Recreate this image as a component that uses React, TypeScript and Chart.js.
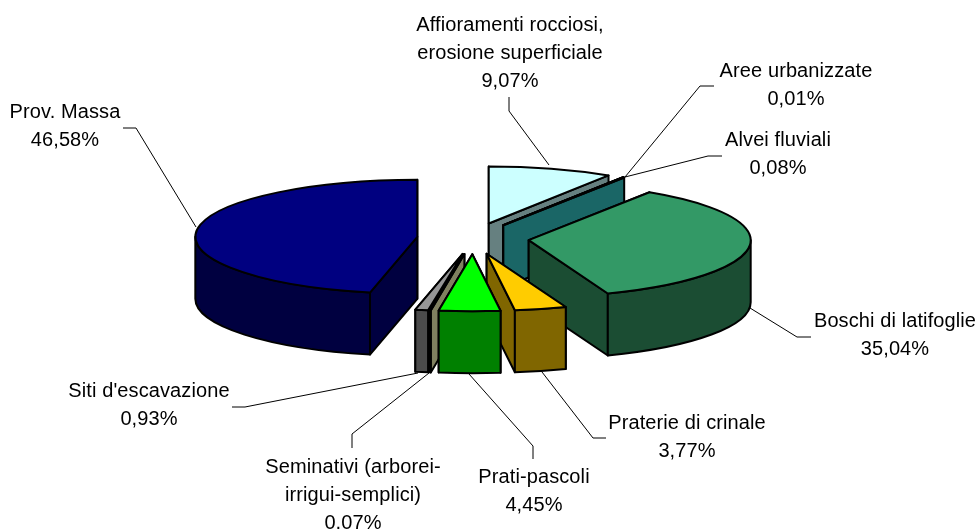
import React, { useEffect, useRef } from "react";
import { Chart, registerables } from "chart.js";

Chart.register(...registerables);

const categories: string[][] = [
  ["Affioramenti rocciosi,", "erosione superficiale"],
  ["Aree urbanizzate"],
  ["Alvei fluviali"],
  ["Boschi di latifoglie"],
  ["Praterie di crinale"],
  ["Prati-pascoli"],
  ["Seminativi (arborei-", "irrigui-semplici)"],
  ["Siti d'escavazione"],
  ["Prov. Massa"],
];
const shares = [9.07, 0.01, 0.08, 35.04, 3.77, 4.45, 0.07, 0.93, 46.58];
const topColors = ["#CCFFFF", "#99CCCC", "#339999", "#339966", "#FFCC00", "#00FF00", "#999966", "#969696", "#000080"];
const wallColors = ["#668080", "#4D6666", "#1A6666", "#1B4D33", "#806600", "#008000", "#808060", "#4B4B4B", "#000040"];
const paintOrder = [0, 1, 2, 3, 8, 7, 6, 4, 5];

// label centre x, first-line middle y
const labelAnchors = [
  [510, 25], [796, 71], [778, 140], [895, 321], [687, 423], [534, 477], [353, 467], [149, 391], [65, 112],
];
// leader polylines
const leaders = [
  [[509, 97], [509, 111], [549, 165]],
  [[714, 86], [700, 86], [625, 177]],
  [[722, 156], [708, 156], [625, 177]],
  [[811, 337], [797, 337], [750, 308]],
  [[606, 438], [593, 438], [542, 372]],
  [[533, 459], [533, 446], [469, 374]],
  [[352, 448], [352, 434], [429, 373]],
  [[232, 407], [245, 407], [418, 373]],
  [[123, 128], [136, 128], [196, 227]],
];

const TILT = 0.257;
const EXPLODE = 56;
const EXPLODE_TILT = 0.28;
const DEPTH = 62;
const FONT = '20px "Liberation Sans"';
const LINE_H = 28;

const pie3d = {
  id: "pie3d",
  beforeDatasetDraw(chart: any) {
    const ctx: CanvasRenderingContext2D = chart.ctx;
    const arcs = chart.getDatasetMeta(0).data;
    ctx.save();
    ctx.lineJoin = "round";
    ctx.lineWidth = 2;
    ctx.strokeStyle = "#000";
    const fillStroke = (c: string) => {
      ctx.fillStyle = c;
      ctx.fill();
      ctx.stroke();
    };
    for (const i of paintOrder) {
      const a = arcs[i];
      const s = a.startAngle;
      const e = a.endAngle;
      const mid = (s + e) / 2;
      const rx = a.outerRadius;
      const ry = rx * TILT;
      const cx = a.x + Math.cos(mid) * EXPLODE;
      const cy = a.y + Math.sin(mid) * EXPLODE * EXPLODE_TILT;
      const px = (t: number) => cx + Math.cos(t) * rx;
      const py = (t: number) => cy + Math.sin(t) * ry;
      const face = (t: number) => {
        ctx.beginPath();
        ctx.moveTo(cx, cy);
        ctx.lineTo(px(t), py(t));
        ctx.lineTo(px(t), py(t) + DEPTH);
        ctx.lineTo(cx, cy + DEPTH);
        ctx.closePath();
        fillStroke(wallColors[i]);
      };
      const faces = py(s) < py(e) ? [s, e] : [e, s];
      faces.forEach(face);
      // visible part of the rim: screen-front half of the ellipse
      const from = Math.max(s, 0);
      const to = Math.min(e, Math.PI);
      const ranges: number[][] = [];
      if (to > from) ranges.push([from, to]);
      const from2 = Math.max(s, 2 * Math.PI);
      const to2 = Math.min(e, 3 * Math.PI);
      if (to2 > from2) ranges.push([from2, to2]);
      for (const [f, t] of ranges) {
        ctx.beginPath();
        ctx.ellipse(cx, cy, rx, ry, 0, f, t);
        ctx.lineTo(px(t), py(t) + DEPTH);
        ctx.ellipse(cx, cy + DEPTH, rx, ry, 0, t, f, true);
        ctx.closePath();
        fillStroke(wallColors[i]);
      }
      ctx.beginPath();
      ctx.moveTo(cx, cy);
      ctx.ellipse(cx, cy, rx, ry, 0, s, e);
      ctx.closePath();
      fillStroke(topColors[i]);
    }
    ctx.restore();
    return false;
  },
  afterDraw(chart: any) {
    const ctx: CanvasRenderingContext2D = chart.ctx;
    ctx.save();
    ctx.strokeStyle = "#000";
    ctx.lineWidth = 1;
    leaders.forEach((pts) => {
      ctx.beginPath();
      pts.forEach(([x, y], k) => (k ? ctx.lineTo(x, y) : ctx.moveTo(x, y)));
      ctx.stroke();
    });
    ctx.font = FONT;
    (ctx as any).letterSpacing = "0.1px";
    ctx.fillStyle = "#000";
    ctx.textAlign = "center";
    ctx.textBaseline = "middle";
    categories.forEach((lines, i) => {
      const [x, y] = labelAnchors[i];
      const all = [...lines, shares[i].toFixed(2).replace(".", ",") + "%"];
      all.forEach((t, k) => ctx.fillText(t, x, y + k * LINE_H));
    });
    ctx.restore();
  },
};

export default function App() {
  const ref = useRef<HTMLCanvasElement>(null);
  useEffect(() => {
    const chart = new Chart(ref.current as HTMLCanvasElement, {
      type: "pie",
      data: {
        labels: categories.map((l) => l.join(" ")),
        datasets: [{ data: shares, backgroundColor: topColors, borderWidth: 0 }],
      },
      options: {
        responsive: false,
        animation: false,
        radius: 222,
        rotation: 0,
        layout: { padding: { right: 31, bottom: 52 } },
        plugins: { legend: { display: false }, tooltip: { enabled: false } },
      } as any,
      plugins: [pie3d as any],
    });
    return () => chart.destroy();
  }, []);
  return (
    <div style={{ position: "fixed", left: 0, top: 0, width: 977, height: 529, background: "#fff" }}>
      <canvas ref={ref} width={977} height={529} style={{ display: "block" }} />
    </div>
  );
}
